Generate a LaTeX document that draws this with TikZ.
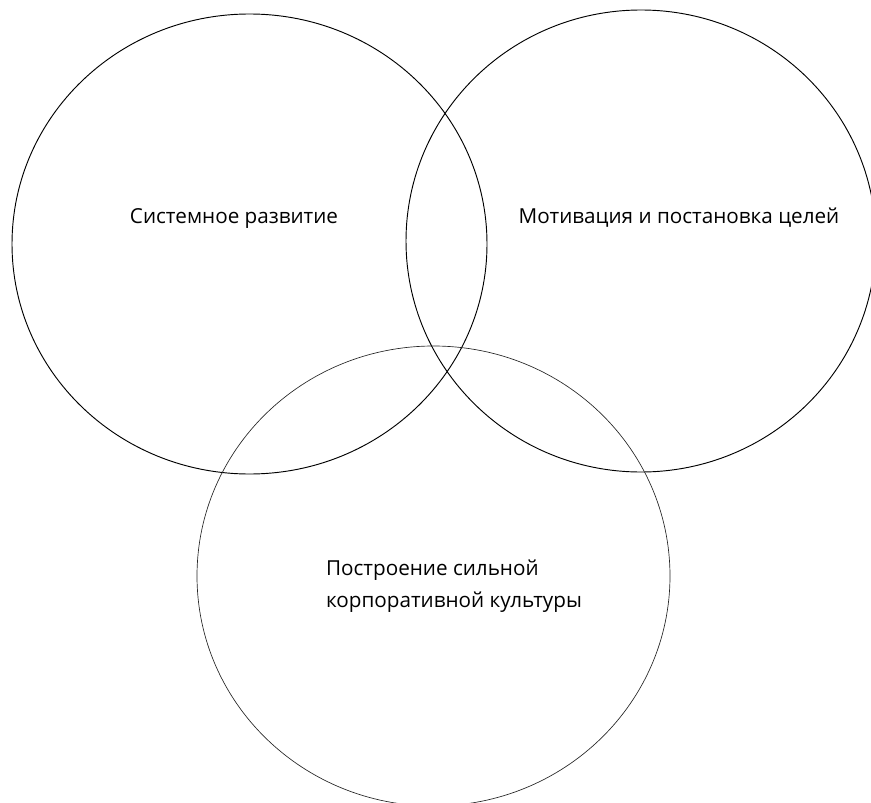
\documentclass[tikz,border=0pt]{standalone}
\usepackage{fontspec}
\setmainfont{Open Sans}
\usetikzlibrary{positioning}
\tikzstyle{diagram} = [x = 0.75pt, y = -0.75pt]
\tikzstyle{circleLine} = [color=black, line width=0.7pt]
\tikzstyle{circleLineThin} = [color=black!85, line width=0.5pt]
\tikzstyle{circleText} = [font=\fontsize{15.5}{24.5}\selectfont, inner sep=0pt]
\newcommand{\areaCircle}[5]{\draw [#5] (#1, #2) ellipse ({#3 * 0.75pt} and {#4 * 0.75pt});}

\begin{document}
\begin{tikzpicture}[diagram]
          \useasboundingbox (0,0) rectangle (871,803);
          \clip (0,0) rectangle (871,803);
          \areaCircle{249.5}{244}{237.5}{230}{circleLine}
          \areaCircle{641}{241}{235}{231}{circleLine}
          \areaCircle{433.5}{576}{236.5}{230}{circleLineThin}

          \node [circleText] (systemText) at (234, 218) {Системное развитие};
          \node [circleText] (motivationText) at (679, 218) {Мотивация и постановка целей};
          \node [circleText, align=left] (cultureText) at (454, 586) {Построение сильной\\корпоративной культуры};
        \end{tikzpicture}
\end{document}
